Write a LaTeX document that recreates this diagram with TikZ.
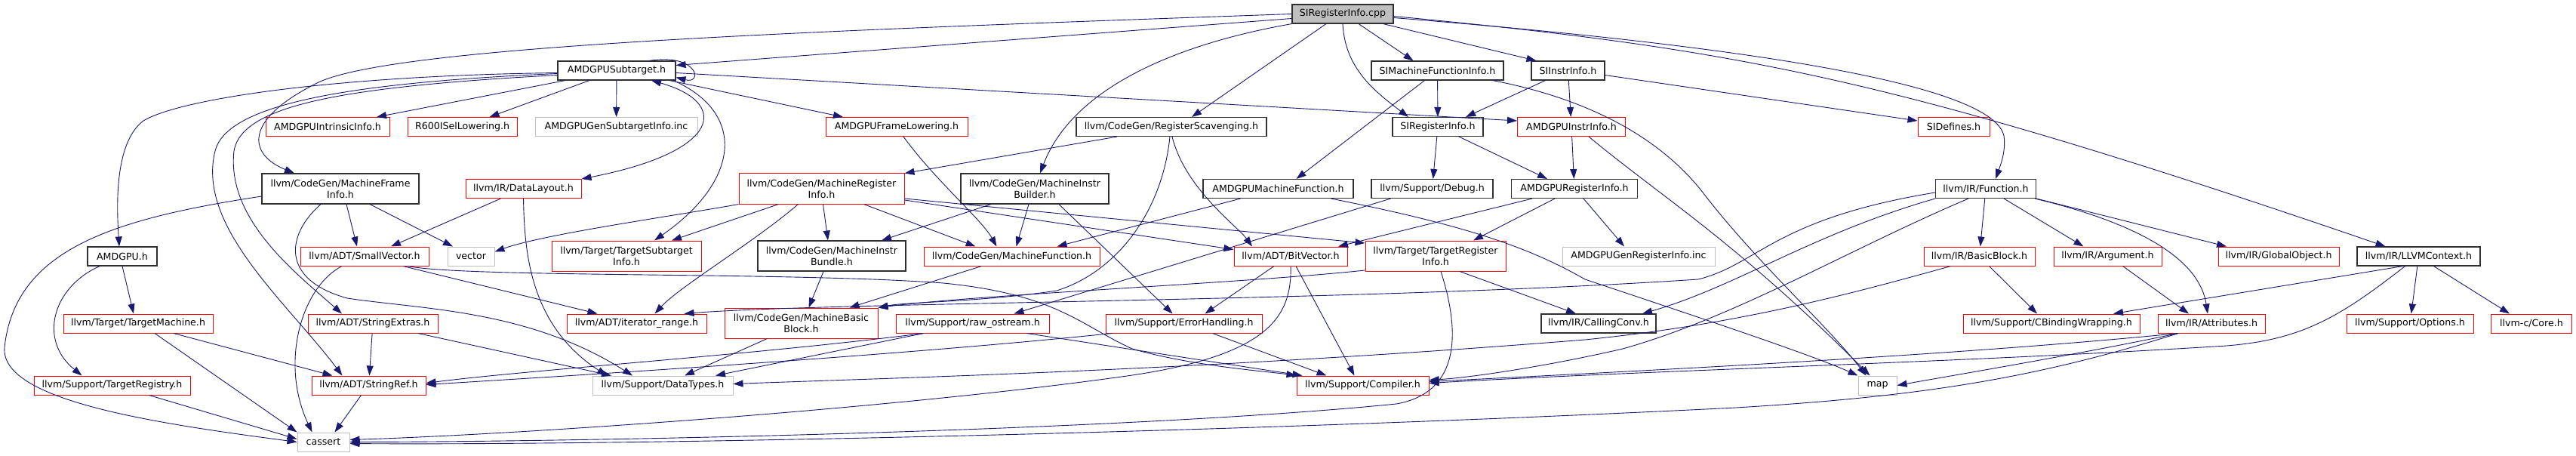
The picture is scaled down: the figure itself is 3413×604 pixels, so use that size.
\documentclass[tikz,border=0pt]{standalone}
\usepackage{fontspec}
\setmainfont{DejaVu Sans}
\definecolor{edgeblue}{HTML}{191970}
\definecolor{greyborder}{HTML}{BFBFBF}
\definecolor{truncred}{HTML}{FF0000}
\definecolor{hdrline}{HTML}{303030}
\usetikzlibrary{arrows.meta, positioning}

\begin{document}
\begin{tikzpicture}[
    x=1pt, y=-1pt,
    box/.style={rectangle, minimum height=25pt, inner sep=2pt,
                text centered, align=center,
                font=\fontsize{12.6}{15}\selectfont},
    hdr/.style={box, draw=hdrline, line width=1.1pt},
    trunc/.style={box, draw=truncred, line width=1pt},
    sys/.style={box, draw=greyborder, line width=1pt},
    root/.style={hdr, fill=greyborder},
    tall/.style={minimum height=40pt},
    dep/.style={-{Triangle[length=13pt, width=9pt]}, line width=0.9pt, edgeblue},
    deps/.style={dep, {Triangle[length=13pt, width=9pt]}-{Triangle[length=13pt, width=9pt]}}
  ]
  \useasboundingbox (0,0) rectangle (3413,604);

  % rows of headers, top to bottom
  \node[root, minimum width=134pt] (cpp) at (1779,18.5) {SIRegisterInfo.cpp};

  \node[hdr, minimum width=156pt] (sub)   at (817,93.5)    {AMDGPUSubtarget.h};
  \node[hdr, minimum width=175pt] (simfi) at (1904.5,93.5) {SIMachineFunctionInfo.h};
  \node[hdr, minimum width=97pt]  (siii)  at (2077.5,93.5) {SIInstrInfo.h};

  \node[trunc, minimum width=164pt] (intr)    at (434,168)    {AMDGPUIntrinsicInfo.h};
  \node[trunc, minimum width=145pt] (r600)    at (612.5,168)  {R600ISelLowering.h};
  \node[sys,   minimum width=215pt] (gensub)  at (816.5,168)  {AMDGPUGenSubtargetInfo.inc};
  \node[trunc, minimum width=188pt] (frame)   at (1188,168)   {AMDGPUFrameLowering.h};
  \node[hdr,   minimum width=252pt] (regscav) at (1552,168)   {llvm/CodeGen/RegisterScavenging.h};
  \node[hdr,   minimum width=120pt] (sireg)   at (1905,168)   {SIRegisterInfo.h};
  \node[trunc, minimum width=143pt] (instr)   at (2082,168)   {AMDGPUInstrInfo.h};
  \node[trunc, minimum width=95pt]  (sidef)   at (2588.5,168) {SIDefines.h};

  \node[hdr, tall, minimum width=208pt]   (mfi)  at (451,250)    {llvm/CodeGen/MachineFrame\\Info.h};
  \node[trunc, minimum width=153pt]       (dl)   at (693.5,250)  {llvm/IR/DataLayout.h};
  \node[trunc, tall, minimum width=219pt] (mri)  at (1088.5,250) {llvm/CodeGen/MachineRegister\\Info.h};
  \node[hdr, tall, minimum width=196pt]   (mib)  at (1371,250)   {llvm/CodeGen/MachineInstr\\Builder.h};
  \node[hdr, minimum width=199pt]         (amf)  at (1693.5,250) {AMDGPUMachineFunction.h};
  \node[hdr, minimum width=161pt]         (dbg)  at (1897.5,250) {llvm/Support/Debug.h};
  \node[hdr, minimum width=167pt]         (amri) at (2086,250)   {AMDGPURegisterInfo.h};
  \node[hdr, minimum width=133pt]         (func) at (2631,250)   {llvm/IR/Function.h};

  \node[hdr, minimum width=92pt]          (amdgpu) at (162,339.5)    {AMDGPU.h};
  \node[trunc, minimum width=170pt]       (sv)     at (483,339.5)    {llvm/ADT/SmallVector.h};
  \node[sys, minimum width=62pt]          (vec)    at (624,339.5)    {vector};
  \node[trunc, tall, minimum width=198pt] (tsi)    at (830,339)      {llvm/Target/TargetSubtarget\\Info.h};
  \node[hdr, tall, minimum width=196pt]   (mibun)  at (1102,339)     {llvm/CodeGen/MachineInstr\\Bundle.h};
  \node[trunc, minimum width=233pt]       (mf)     at (1340.5,339.5) {llvm/CodeGen/MachineFunction.h};
  \node[trunc, minimum width=150pt]       (bv)     at (1710,339.5)   {llvm/ADT/BitVector.h};
  \node[trunc, tall, minimum width=186pt] (tri)    at (1902,339)     {llvm/Target/TargetRegister\\Info.h};
  \node[sys, minimum width=202pt]         (genreg) at (2171,339.5)   {AMDGPUGenRegisterInfo.inc};
  \node[trunc, minimum width=147pt]       (bb)     at (2622.5,339.5) {llvm/IR/BasicBlock.h};
  \node[trunc, minimum width=143pt]       (arg)    at (2792.5,339.5) {llvm/IR/Argument.h};
  \node[trunc, minimum width=160pt]       (gobj)   at (3019,339.5)   {llvm/IR/GlobalObject.h};
  \node[hdr, minimum width=163pt]         (ctx)    at (3204.5,339.5) {llvm/IR/LLVMContext.h};

  \node[trunc, minimum width=198pt]       (tm)   at (183,428.5)    {llvm/Target/TargetMachine.h};
  \node[trunc, minimum width=172pt]       (sx)   at (494,428.5)    {llvm/ADT/StringExtras.h};
  \node[trunc, minimum width=185pt]       (ir)   at (843.5,428.5)  {llvm/ADT/iterator\_range.h};
  \node[trunc, tall, minimum width=203pt] (mbb)  at (1061.5,428)   {llvm/CodeGen/MachineBasic\\Block.h};
  \node[trunc, minimum width=203pt]       (raw)  at (1288.5,428.5) {llvm/Support/raw\_ostream.h};
  \node[trunc, minimum width=207pt]       (eh)   at (1568.5,428.5) {llvm/Support/ErrorHandling.h};
  \node[hdr, minimum width=152pt]         (cc)   at (2118,428.5)   {llvm/IR/CallingConv.h};
  \node[trunc, minimum width=234pt]       (cbw)  at (2718,428.5)   {llvm/Support/CBindingWrapping.h};
  \node[trunc, minimum width=142pt]       (attr) at (2930,428.5)   {llvm/IR/Attributes.h};
  \node[trunc, minimum width=168pt]       (opt)  at (3193,428.5)   {llvm/Support/Options.h};
  \node[trunc, minimum width=107pt]       (core) at (3354,428.5)   {llvm-c/Core.h};

  \node[trunc, minimum width=207pt] (treg) at (148.5,510.5)  {llvm/Support/TargetRegistry.h};
  \node[trunc, minimum width=151pt] (sr)   at (488.5,510.5)  {llvm/ADT/StringRef.h};
  \node[sys, minimum width=186pt]   (dt)   at (878,510.5)    {llvm/Support/DataTypes.h};
  \node[trunc, minimum width=175pt] (comp) at (1805.5,510.5) {llvm/Support/Compiler.h};
  \node[sys, minimum width=51pt]    (map)  at (2487.5,510.5) {map};

  \node[sys, minimum width=69pt] (cassert) at (428.5,585.5) {cassert};

  % SIRegisterInfo.cpp
  \draw[dep] (cpp.west) .. controls (1100,40) and (520,60) .. (420,110)
             .. controls (320,160) and (330,205) .. ([xshift=-61pt]mfi.north);
  \draw[dep] ([yshift=-6pt]cpp.west) -- ([yshift=7pt]sub.east);
  \draw[dep] (cpp.south west) .. controls (1550,60) and (1420,120) .. ([xshift=7pt]mib.north);
  \draw[dep] ([xshift=-22pt]cpp.south) -- ([xshift=27pt]regscav.north);
  \draw[dep] (cpp.south) .. controls (1782,90) and (1820,120) .. ([xshift=-39pt]sireg.north);
  \draw[dep] ([xshift=21pt]cpp.south) -- ([xshift=-32pt]simfi.north);
  \draw[dep] ([xshift=-14pt]cpp.south east) -- ([xshift=-42pt]siii.north);
  \draw[dep] ([yshift=-5pt]cpp.east) .. controls (2300,60) and (2640,110) .. (2655,180)
             .. controls (2658,200) and (2650,220) .. ([xshift=13pt]func.north);
  \draw[dep] ([yshift=-3pt]cpp.east) .. controls (2300,65) and (2500,100) .. ([xshift=-44pt]ctx.north);

  % AMDGPUSubtarget.h
  \draw[dep] ([xshift=43pt]sub.north) .. controls (925,70) and (932,112) .. ([yshift=-9pt]sub.east);
  \draw[dep] ([xshift=-68pt]sub.south) -- ([xshift=65pt]intr.north);
  \draw[dep] ([xshift=-36pt]sub.south) -- ([xshift=36pt]r600.north);
  \draw[dep] (sub) -- (gensub);
  \draw[dep] ([xshift=70pt]sub.south) -- ([xshift=-71pt]frame.north);
  \draw[dep] ([yshift=-3pt]sub.east) -- ([yshift=8pt]instr.west);
  \draw[deps] ([xshift=46pt]sub.south) .. controls (965,135) and (960,200) .. (dl.north east);
  \draw[dep] ([xshift=75pt]sub.south) .. controls (990,150) and (980,240) .. ([xshift=37pt]tsi.north);
  \draw[dep] ([yshift=-3pt]sub.west) .. controls (450,100) and (240,130) .. (190,160)
             .. controls (150,190) and (155,280) .. ([xshift=-4pt]amdgpu.north);
  \draw[dep] ([yshift=-4pt]sub.west) .. controls (450,110) and (300,140) .. (285,200)
             .. controls (260,300) and (380,400) .. ([xshift=-35pt]sr.north);
  \draw[dep] ([yshift=-6pt]sub.west) .. controls (450,115) and (320,140) .. (310,200)
             .. controls (300,290) and (390,360) .. ([xshift=-41pt]sx.north);

  % SIMachineFunctionInfo.h, SIInstrInfo.h
  \draw[dep] (simfi) -- (sireg);
  \draw[dep] ([xshift=-17pt]simfi.south) -- ([xshift=24pt]amf.north);
  \draw[dep] ([xshift=73pt]simfi.south) .. controls (2100,130) and (2200,180) .. (2260,260)
             .. controls (2330,350) and (2420,430) .. ([xshift=-15pt]map.north);
  \draw[dep] ([xshift=-30pt]siii.south) -- ([xshift=37pt]sireg.north);
  \draw[dep] (siii) -- (instr);
  \draw[dep] ([yshift=-6pt]siii.east) -- ([yshift=8pt]sidef.west);

  % second row
  \draw[dep] ([xshift=9pt]frame.south) .. controls (1240,240) and (1300,290) .. ([xshift=-20pt]mf.north);
  \draw[dep] ([xshift=-72pt]regscav.south) -- (mri.north east);
  \draw[dep] ([xshift=1pt]regscav.south) .. controls (1570,250) and (1640,300) .. ([xshift=-51pt]bv.north);
  \draw[dep] ([xshift=-2pt]regscav.south) .. controls (1540,280) and (1480,360) .. (1400,385)
             .. controls (1300,400) and (1200,400) .. (mbb.north east);
  \draw[dep] (sireg) -- (dbg);
  \draw[dep] ([xshift=28pt]sireg.south) -- ([xshift=-36pt]amri.north);
  \draw[dep] (instr) -- (amri);
  \draw[dep] ([xshift=23pt]instr.south) .. controls (2200,260) and (2300,320) .. ([xshift=-10pt]map.north);

  % third row
  \draw[dep] ([yshift=-10pt]mfi.west) .. controls (150,290) and (20,330) .. (6,460)
             .. controls (0,530) and (200,560) .. (cassert.west);
  \draw[dep] ([xshift=8pt]mfi.south) -- ([xshift=-10pt]sv.north);
  \draw[dep] ([xshift=39pt]mfi.south) -- ([xshift=-24pt]vec.north);
  \draw[dep] ([xshift=-26pt]mfi.south) .. controls (380,310) and (370,370) .. (460,395)
             .. controls (560,410) and (700,410) .. ([xshift=-40pt]dt.north);
  \draw[dep] ([xshift=-30pt]dl.south) -- ([xshift=35pt]sv.north);
  \draw[dep] (dl.south) .. controls (695,330) and (700,430) .. ([xshift=-74pt]dt.north);
  \draw[dep] (mri.south west) .. controls (900,285) and (720,310) .. ([yshift=6pt]vec.east);
  \draw[dep] ([xshift=-57pt]mri.south) -- ([xshift=60pt]tsi.north);
  \draw[dep] ([xshift=-31pt]mri.south) .. controls (1000,320) and (900,380) .. ([xshift=24pt]ir.north);
  \draw[dep] ([xshift=2pt]mri.south) -- ([xshift=-5pt]mibun.north);
  \draw[dep] ([xshift=56pt]mri.south) -- ([xshift=-48pt]mf.north);
  \draw[dep] ([yshift=-15pt]mri.east) -- ([yshift=9pt]bv.west);
  \draw[dep] ([yshift=-13pt]mri.east) -- ([yshift=17pt]tri.west);
  \draw[dep] ([xshift=-58pt]mib.south) -- ([xshift=66pt]mibun.north);
  \draw[dep] ([xshift=-8pt]mib.south) -- ([xshift=6pt]mf.north);
  \draw[dep] ([xshift=32pt]mib.south) -- ([xshift=-15pt]eh.north);
  \draw[dep] ([xshift=-50pt]amf.south) -- ([xshift=60pt]mf.north);
  \draw[dep] ([xshift=70pt]amf.south) .. controls (1950,300) and (2030,330) .. (2100,370)
             .. controls (2250,420) and (2400,470) .. (map.north west);
  \draw[dep] ([xshift=-55pt]dbg.south) -- ([xshift=55pt]raw.north);
  \draw[dep] ([xshift=-56pt]amri.south) -- ([xshift=63pt]bv.north);
  \draw[dep] ([xshift=-26pt]amri.south) -- ([xshift=50pt]tri.north);
  \draw[dep] ([xshift=12pt]amri.south) -- ([xshift=-19pt]genreg.north);
  \draw[dep] ([yshift=-5pt]func.west) .. controls (2350,290) and (2330,350) .. (2250,370)
             .. controls (1800,400) and (1100,400) .. ([xshift=63pt]ir.north);
  \draw[dep] (func.south west) .. controls (2400,310) and (2300,380) .. ([xshift=58pt]cc.north);
  \draw[dep] ([xshift=-23pt]func.south) .. controls (2450,330) and (2300,420) .. (2150,462)
             .. controls (2050,485) and (1950,500) .. ([yshift=7pt]comp.east);
  \draw[dep] (func) -- (bb);
  \draw[dep] ([xshift=24pt]func.south) -- ([xshift=-32pt]arg.north);
  \draw[dep] (func.south east) -- ([xshift=-69pt]gobj.north);
  \draw[dep] ([xshift=-2pt]func.south east) .. controls (2850,300) and (2915,350) .. ([xshift=-5pt]attr.north);

  % fourth row
  \draw[dep] (amdgpu.south) -- ([xshift=-6pt]tm.north);
  \draw[dep] ([xshift=-30pt]amdgpu.south) .. controls (70,380) and (50,450) .. ([xshift=-40pt]treg.north);
  \draw[dep] ([xshift=-30pt]sv.south) .. controls (400,380) and (370,480) .. ([xshift=-15pt]cassert.north);
  \draw[dep] ([xshift=51pt]sv.south) -- ([xshift=-52pt]ir.north);
  \draw[dep] ([xshift=57pt]sv.south) .. controls (620,368) and (1050,360) .. (1250,375)
             .. controls (1400,390) and (1430,430) .. (1500,462)
             .. controls (1580,485) and (1680,492) .. (comp.north west);
  \draw[dep] ([xshift=-40pt]mf.south) -- ([xshift=64pt]mbb.north);
  \draw[dep] ([xshift=-11pt]mibun.south) -- ([xshift=10pt]mbb.north);
  \draw[dep] ([xshift=-22pt]bv.south) -- ([xshift=28pt]eh.north);
  \draw[dep] ([xshift=7pt]bv.south) -- ([xshift=-11pt]comp.north);
  \draw[dep] (bv.south) .. controls (1712,420) and (1680,470) .. (1500,497)
             .. controls (1200,540) and (700,575) .. ([yshift=3pt]cassert.east);
  \draw[dep] ([xshift=32pt]tri.south) -- ([xshift=-30pt]cc.north);
  \draw[dep] ([xshift=7pt]tri.south) .. controls (1935,440) and (1935,520) .. (1850,535)
             .. controls (1500,570) and (800,585) .. (cassert.east);
  \draw[dep] ([yshift=-19pt]tri.west) .. controls (1650,375) and (1300,390) .. (mbb.north east);
  \draw[dep] ([xshift=13pt]bb.south) -- ([xshift=-19pt]cbw.north);
  \draw[dep] ([xshift=-38pt]bb.south) .. controls (2450,390) and (2300,430) .. (2100,450)
             .. controls (1600,490) and (1200,500) .. ([yshift=2pt]dt.east);
  \draw[dep] ([xshift=20pt]arg.south) -- ([xshift=-30pt]attr.north);
  \draw[dep] ([xshift=-21pt]ctx.south) -- ([xshift=82pt]cbw.north);
  \draw[dep] (ctx) -- (opt);
  \draw[dep] ([xshift=20pt]ctx.south) -- ([xshift=-29pt]core.north);
  \draw[dep] ([xshift=-18pt]ctx.south) .. controls (3100,420) and (3050,450) .. (2950,458)
             .. controls (2600,480) and (2200,490) .. ([yshift=3pt]comp.east);

  % fifth row
  \draw[dep] ([xshift=22pt]tm.south) -- (cassert.north west);
  \draw[dep] ([xshift=47pt]tm.south) -- ([xshift=-48pt]sr.north);
  \draw[dep] (sx) -- (sr);
  \draw[dep] ([xshift=60pt]sx.south) -- ([xshift=-68pt]dt.north);
  \draw[dep] ([xshift=-45pt]mbb.south) -- ([xshift=29pt]dt.north);
  \draw[dep] ([xshift=-65pt]raw.south) -- ([xshift=70pt]dt.north);
  \draw[dep] ([xshift=-65pt]raw.south) .. controls (1000,470) and (700,490) .. ([yshift=3pt]sr.east);
  \draw[dep] ([xshift=72pt]raw.south) -- ([xshift=8pt]comp.north west);
  \draw[dep] ([xshift=-95pt]eh.south) .. controls (1200,470) and (800,495) .. ([yshift=1pt]sr.east);
  \draw[dep] ([xshift=38pt]eh.south) -- ([xshift=-48pt]comp.north);
  \draw[dep] ([xshift=-44pt]attr.south) .. controls (2600,470) and (2200,490) .. ([yshift=5pt]comp.east);
  \draw[dep] ([xshift=-44pt]attr.south) .. controls (2750,470) and (2600,495) .. (map.east);
  \draw[dep] ([xshift=-44pt]attr.south) .. controls (2700,500) and (2550,525) .. (2300,540)
             .. controls (1600,575) and (800,590) .. ([yshift=-2pt]cassert.east);

  % bottom row
  \draw[dep] ([xshift=49pt]treg.south) -- ([yshift=4pt]cassert.west);
  \draw[dep] ([xshift=-10pt]sr.south) -- ([xshift=15pt]cassert.north);
\end{tikzpicture}
\end{document}
